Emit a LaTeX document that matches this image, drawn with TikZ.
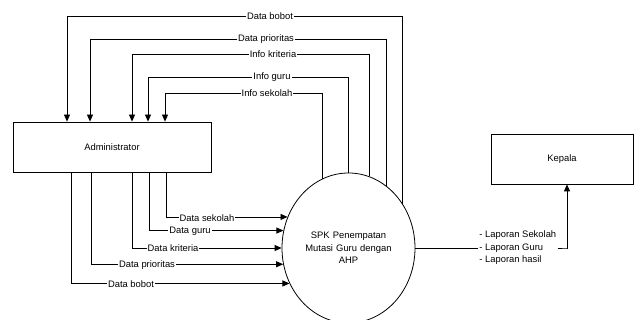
\documentclass[tikz,border=0pt]{standalone}
\usepackage{fontspec}
\setmainfont{Liberation Sans}
\usetikzlibrary{arrows.meta,shapes.geometric}
\begin{document}
\begin{tikzpicture}[x=1pt,y=1pt,
  line width=0.8pt,
  font=\fontsize{9.4}{12.5}\selectfont,
  arr/.style={-{Triangle[length=7pt,width=6pt]}},
  entity/.style={draw,rectangle,inner sep=0pt},
  process/.style={draw,ellipse,inner sep=0pt,minimum width=133pt,minimum height=150pt,text width=92pt,align=center},
  lbl/.style={fill=white,inner sep=1pt}]
\useasboundingbox (0,0) rectangle (634,320);
\node[entity,minimum width=198pt,minimum height=50pt] (admin) at (112,173) {Administrator};
\node[entity,minimum width=142pt,minimum height=50pt] (kepala) at (562,161) {Kepala};
\node[process] (spk) at (348.5,72) {SPK Penempatan\\Mutasi Guru dengan\\AHP};
% top feedback flows
\coordinate (tb) at (67,304);
\coordinate (tp) at (90,281);
\coordinate (tk) at (132,266);
\coordinate (tg) at (148,243);
\coordinate (ts) at (165,227);
\draw[arr] (spk.39.8) |- (tb) -- (tb |- admin.north);
\draw[arr] (spk.59.8) |- (tp) -- (tp |- admin.north);
\draw[arr] (spk.74.8) |- (tk) -- (tk |- admin.north);
\draw[arr] (spk.90.4) |- (tg) -- (tg |- admin.north);
\draw[arr] (spk.111.9) |- (ts) -- (ts |- admin.north);
\node[lbl] (lb1) at (270,304) {Data bobot};
\node[lbl] (lb2) at (266,281) {Data prioritas};
\node[lbl] (lb3) at (273,266) {Info kriteria};
\node[lbl] (lb4) at (272,243) {Info guru};
\node[lbl] (lb5) at (267,227) {Info sekolah};
% bottom input flows
\draw[arr] ([xshift=154]admin.south west) |- (spk.153.8);
\draw[arr] ([xshift=137]admin.south west) |- (spk.165.3);
\draw[arr] ([xshift=120]admin.south west) |- (spk.180);
\draw[arr] ([xshift=79]admin.south west) |- (spk.194.7);
\draw[arr] ([xshift=59]admin.south west) |- (spk.211.7);
\node[lbl] (lc1) at (207,102) {Data sekolah};
\node[lbl] (lc2) at (190,89) {Data guru};
\node[lbl] (lc3) at (173,72) {Data kriteria};
\node[lbl] (lc4) at (147,55) {Data prioritas};
\node[lbl] (lc5) at (131,36) {Data bobot};
% output
\node[inner sep=1pt,align=left,anchor=west] (lap) at (478,72) {- Laporan Sekolah\\- Laporan Guru\\- Laporan hasil};
\draw (spk.east) -- (lap.west);
\draw[arr] (lap.east) -- ++(9,0) -| ([xshift=5]kepala.south);
\end{tikzpicture}
\end{document}
